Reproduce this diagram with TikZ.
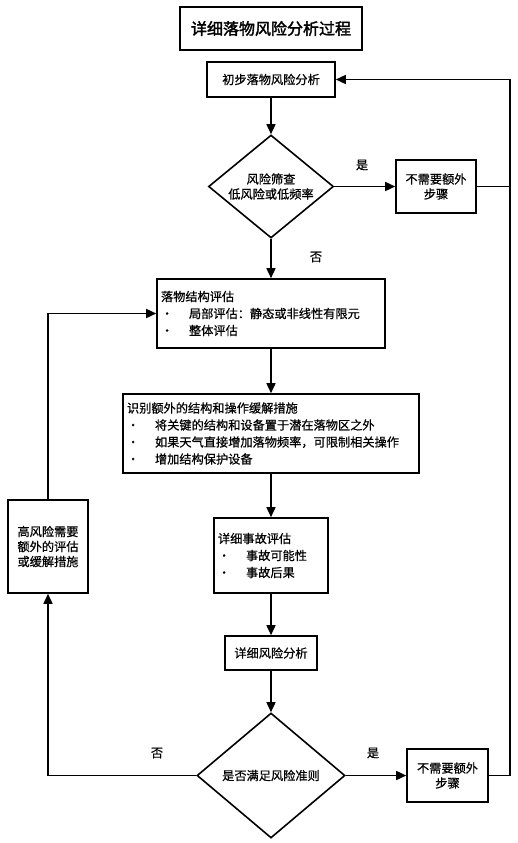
\documentclass[tikz,border=0pt]{standalone}
\usepackage{fontspec}
\setmainfont[FakeBold=0.6]{Noto Sans CJK SC}
\newfontfamily\titlefont[FakeBold=2]{Noto Sans CJK SC}
\usepackage{tikz}
\usetikzlibrary{shapes.geometric,arrows.meta}
\newcommand{\itm}[1]{\makebox[28pt][l]{·}#1}
\tikzstyle{boxNode} = [rectangle, draw, line width=1.6pt, inner sep=0pt, align=center, font=\fontsize{12.2}{15}\selectfont]
\tikzstyle{listNode} = [boxNode, align=left, inner xsep=4pt, font=\fontsize{12.2}{17}\selectfont]
\tikzstyle{decision} = [diamond, draw, line width=1.6pt, inner sep=0pt, aspect=1.2, align=center, font=\fontsize{12.2}{15}\selectfont]
\tikzstyle{lbl} = [font=\fontsize{12.2}{15}\selectfont]

\begin{document}
\begin{tikzpicture}[x=1pt, y=-1pt, >={Triangle[length=10pt,width=9pt]}, line width=1.6pt]
            \useasboundingbox (0,0) rectangle (517,843);
            \node (title)[boxNode, minimum width=182pt, minimum height=43pt, font=\titlefont\fontsize{16}{18}\selectfont] at (271,28.5) {详细落物风险分析过程};
            \node (prelim)[boxNode, minimum width=128pt, minimum height=35pt] at (271,79.5) {初步落物风险分析};
            \node (screen)[decision, minimum width=125pt, minimum height=103pt] at (271,186.5) {风险筛查\\低风险或低频率};
            \node (noextraA)[boxNode, minimum width=80pt, minimum height=53pt] at (436,186.5) {不需要额外\\步骤};
            \node (struct)[listNode, text width=220pt, minimum height=69pt] at (271,313.5) {落物结构评估\\\itm{局部评估：静态或非线性有限元}\\\itm{整体评估}};
            \node (mitig)[listNode, text width=288pt, minimum height=79pt] at (271,433.5) {识别额外的结构和操作缓解措施\\\itm{将关键的结构和设备置于潜在落物区之外}\\\itm{如果天气直接增加落物频率，可限制相关操作}\\\itm{增加结构保护设备}};
            \node (accid)[listNode, text width=106pt, minimum height=75pt] at (271,555.5) {详细事故评估\\\itm{事故可能性}\\\itm{事故后果}};
            \node (high)[boxNode, minimum width=80pt, minimum height=93pt] at (48,546.5) {高风险需要\\额外的评估\\或缓解措施};
            \node (riskan)[boxNode, minimum width=92pt, minimum height=34pt] at (271,653) {详细风险分析};
            \node (check)[decision, minimum width=148pt, minimum height=125pt] at (271,775.5) {是否满足风险准则};
            \node (noextraB)[boxNode, minimum width=81pt, minimum height=53pt] at (447.5,775.5) {不需要额外\\步骤};
            \node (yesA)[lbl] at (362,165) {是};
            \node (noA)[lbl] at (316,257) {否};
            \node (noB)[lbl] at (157,753) {否};
            \node (yesB)[lbl] at (373,753) {是};
            \coordinate (rtop) at (510,79.5);
            \draw[->](prelim)--(screen);
            \draw[->](screen)--(noextraA);
            \draw[->](screen)--(struct);
            \draw[->](struct)--(mitig);
            \draw[->](mitig)--(accid);
            \draw[->](accid)--(riskan);
            \draw[->](riskan)--(check);
            \draw[->](check)--(noextraB);
            \draw[->](check.west)-|(high.south);
            \draw[->](high.north)|-(struct.west);
            \draw[->](noextraB.east)-|(rtop)--(prelim.east);
            \draw(noextraA.east)--(noextraA.east -| rtop);
        \end{tikzpicture}
\end{document}
